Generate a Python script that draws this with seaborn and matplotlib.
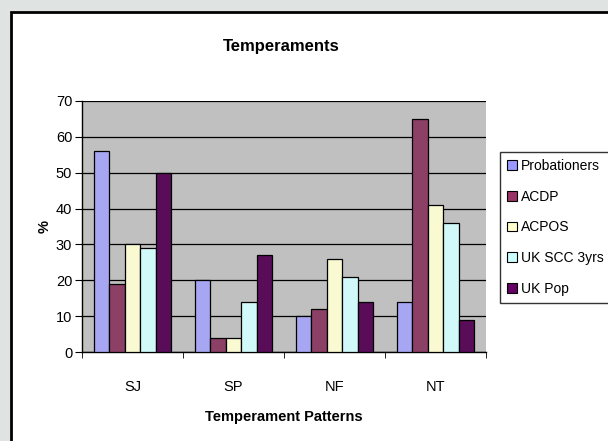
import pandas as pd
import numpy as np
import matplotlib.pyplot as plt
import seaborn as sns
from matplotlib.patches import Rectangle

# categories and series
patterns = ["SJ", "SP", "NF", "NT"]
probationers = [56, 20, 10, 14]
acdp = [19, 4, 12, 65]
acpos = [30, 4, 26, 41]
uk_scc = [29, 14, 21, 36]
uk_pop = [50, 27, 14, 9]

groups = ["Probationers", "ACDP", "ACPOS", "UK SCC 3yrs", "UK Pop"]
colours = ["#9999FF", "#993366", "#FFFFCC", "#CCFFFF", "#660066"]

df = pd.DataFrame({"pattern": patterns, "Probationers": probationers, "ACDP": acdp,
                   "ACPOS": acpos, "UK SCC 3yrs": uk_scc, "UK Pop": uk_pop})
melt_df = pd.melt(df, id_vars=["pattern"], var_name="group", value_name="pct")

sns.set_style("white")
plt.rcParams["font.family"] = ["Liberation Sans", "DejaVu Sans"]
plt.rcParams.update({"text.color": "black", "axes.labelcolor": "black",
                     "xtick.color": "black", "ytick.color": "black"})

fig = plt.figure(figsize=(6.08, 4.41), dpi=100)
fig.patch.set_facecolor("#dfe3e1")

# white chart area with black frame (runs off the right/bottom like the screenshot)
fig.patches.append(Rectangle((11/608, -0.05), 1.1, 1 - 12/441 + 0.05, transform=fig.transFigure,
                             facecolor="white", edgecolor="black", linewidth=2, zorder=-10))

ax = fig.add_axes([82/608, 89/441, 404/608, 251/441])
ax.set_facecolor("#C0C0C0")

sns.barplot(data=melt_df, x="pattern", y="pct", hue="group", hue_order=groups,
            palette=colours, width=5/6.5, edgecolor="black", linewidth=0.9,
            ax=ax, legend=False, zorder=3)

ax.set_ylim(0, 70)
ax.set_yticks(np.arange(0, 71, 10))
ax.set_xlim(-0.5, 3.5)
ax.yaxis.grid(True, color="black", linewidth=0.9)
ax.set_axisbelow(True)

for side in ["top", "right"]:
    ax.spines[side].set_visible(False)
ax.spines["left"].set_color("black")
ax.spines["bottom"].set_color("black")
ax.spines["left"].set_linewidth(1)
ax.spines["bottom"].set_linewidth(1)

# ticks between categories, like Excel
ax.set_xticks(np.arange(-0.5, 4, 1), minor=True)
ax.tick_params(axis="x", which="major", length=0, pad=20, labelsize=10.5)
ax.tick_params(axis="x", which="minor", length=4, direction="out", color="black", bottom=True)
ax.tick_params(axis="y", length=5, direction="out", color="black", left=True, labelsize=10.5, pad=2)

ax.set_xlabel("Temperament Patterns", fontsize=10.5, fontweight="bold", labelpad=12)
ax.set_ylabel("%", fontsize=10.5, fontweight="bold", labelpad=3)
fig.text(281/608, 1 - 47/441, "Temperaments", ha="center", va="center",
         fontsize=12, fontweight="bold")

handles = [Rectangle((0, 0), 1, 1, facecolor=c, edgecolor="black", linewidth=0.8) for c in colours]
leg = fig.legend(handles, groups, loc="upper left", bbox_to_anchor=(500/608, 1 - 152/441),
                 borderaxespad=0, fontsize=10, frameon=True, fancybox=False, handlelength=0.7,
                 handleheight=0.7, handletextpad=0.3, labelspacing=1.2, borderpad=0.5)
leg.get_frame().set_edgecolor("black")
leg.get_frame().set_linewidth(1)

plt.savefig("out.png", dpi=100)
